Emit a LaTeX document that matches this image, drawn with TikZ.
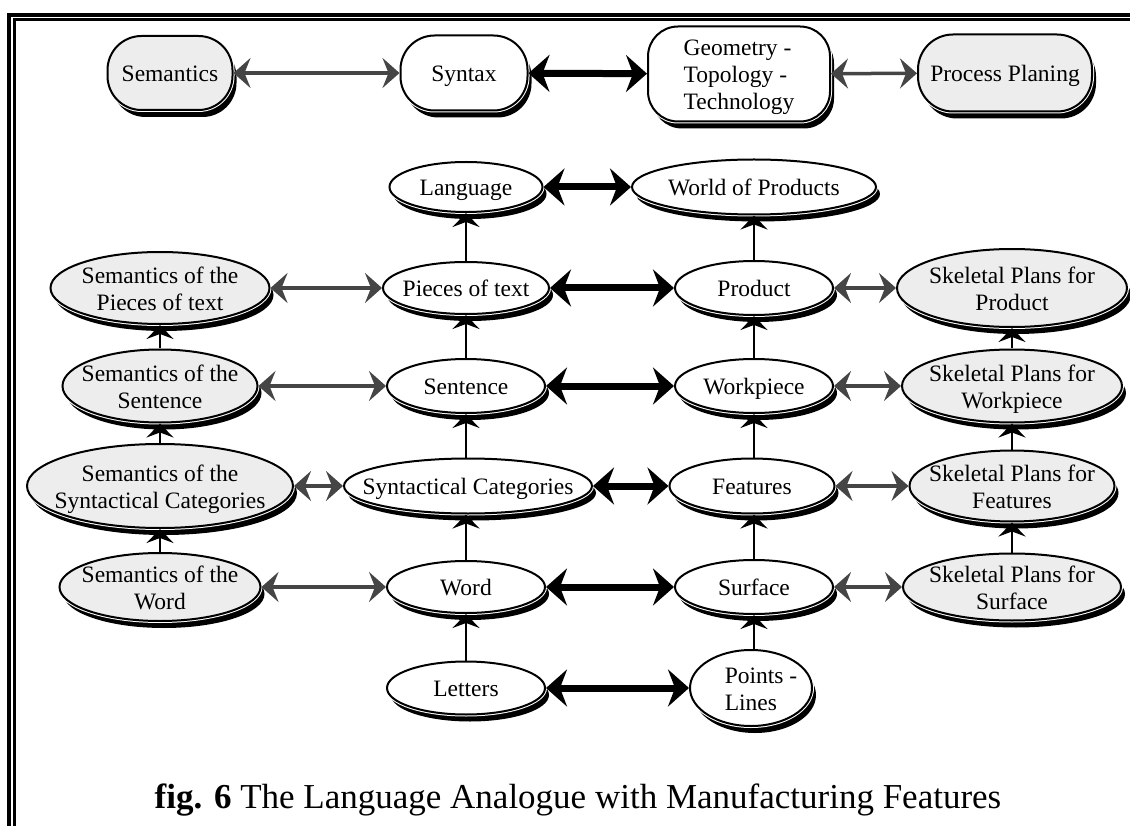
\documentclass[tikz,border=0pt]{standalone}
\usepackage{fontspec}
\setmainfont{Liberation Serif}
\usepackage{tikz}
\usetikzlibrary{arrows.meta, shapes.geometric, shadows}

\definecolor{semgray}{gray}{0.93}
\definecolor{arrgray}{gray}{0.27}
\newcommand{\lbl}[2][c]{\makebox[0pt]{\begin{tabular}{@{}#1@{}}#2\end{tabular}}}

\tikzset{
    base/.style={draw, fill=white, line width=2pt, inner sep=0pt,
        text height=19.5pt, text depth=0pt, font=\fontsize{23.5}{27}\selectfont,
        drop shadow={shadow xshift=4pt, shadow yshift=-7pt, opacity=1, fill=black},
        preaction={draw=white, line width=4pt}},
    ell/.style n args={2}{base, ellipse, minimum width=#1, minimum height=#2},
    sem/.style n args={2}{ell={#1}{#2}, fill=semgray},
    tbox/.style n args={3}{base, rectangle, rounded corners=#3, minimum width=#1, minimum height=#2},
    grayarr/.style={draw=arrgray, line width=3.5pt,
        {Stealth[length=17pt, width=30pt, inset=6pt]}-{Stealth[length=17pt, width=30pt, inset=6pt]}},
    boldarr/.style={line width=7pt,
        {Stealth[length=21pt, width=37pt, inset=7pt]}-{Stealth[length=21pt, width=37pt, inset=7pt]}},
    uparr/.style={line width=2.5pt, -{Stealth[length=14pt, width=27pt, inset=5pt]}}
}

\begin{document}
\begin{tikzpicture}[x=1pt, y=-1pt]
        \useasboundingbox (0,0) rectangle (1130,826);

        \draw[line width=3.5pt] (9.2,826) -- (9.2,15) -- (1130,15);
        \draw[line width=2.5pt] (14.5,826) -- (14.5,19.7) -- (1130,19.7);

        \node[tbox={125pt}{74pt}{34pt}, fill=semgray] (SemT) at (170,73) {\lbl{Semantics}};
        \node[tbox={127pt}{75pt}{34pt}] (SynT) at (464,73) {\lbl{Syntax}};
        \node[tbox={182pt}{95pt}{30pt}] (GeoT) at (739,74) {\lbl[l]{Geometry -\\Topology -\\Technology}};
        \node[tbox={174pt}{77pt}{35pt}, fill=semgray] (ProcT) at (1005,73) {\lbl{Process Planing}};

        \draw[grayarr] (SemT) -- (SynT);
        \draw[boldarr] (SynT) -- (GeoT);
        \draw[grayarr] (GeoT) -- (ProcT);

        \node[ell={153pt}{50pt}] (Lang) at (466,187) {\lbl{Language}};
        \node[ell={244pt}{55pt}] (World) at (754,187) {\lbl{World of Products}};

        \node[sem={219pt}{72pt}] (SPie) at (160,288) {\lbl{Semantics of the\\Pieces of text}};
        \node[ell={166pt}{52pt}] (Pie) at (466,288) {\lbl{Pieces of text}};
        \node[ell={158pt}{54pt}] (Prod) at (754,288) {\lbl{Product}};
        \node[sem={230pt}{78pt}] (KPro) at (1012,288) {\lbl{Skeletal Plans for\\Product}};

        \node[sem={195pt}{73pt}] (SSen) at (160,386) {\lbl{Semantics of the\\Sentence}};
        \node[ell={158pt}{54pt}] (Sen) at (466,386) {\lbl{Sentence}};
        \node[ell={158pt}{54pt}] (Work) at (754,386) {\lbl{Workpiece}};
        \node[sem={220pt}{73pt}] (KWork) at (1012,386) {\lbl{Skeletal Plans for\\Workpiece}};

        \node[sem={266pt}{84pt}] (SCat) at (160,486) {\lbl{Semantics of the\\Syntactical Categories}};
        \node[ell={248pt}{55pt}] (Cat) at (468,486) {\lbl{Syntactical Categories}};
        \node[ell={165pt}{55pt}] (Feat) at (752,486) {\lbl{Features}};
        \node[sem={205pt}{71pt}] (KFeat) at (1012,486) {\lbl{Skeletal Plans for\\Features}};

        \node[sem={201pt}{68pt}] (SWord) at (160,587) {\lbl{Semantics of the\\Word}};
        \node[ell={158pt}{52pt}] (Word) at (466,587) {\lbl{Word}};
        \node[ell={158pt}{54pt}] (Surf) at (754,587) {\lbl{Surface}};
        \node[sem={218pt}{67pt}] (KSurf) at (1012,587) {\lbl{Skeletal Plans for\\Surface}};

        \node[ell={158pt}{53pt}] (Let) at (466,688) {\lbl{Letters}};
        \node[ell={122pt}{76pt}] (Pts) at (751,688) {\lbl[l]{\hspace*{20pt}Points -\\\hspace*{20pt}Lines}};

        \draw[boldarr] (Lang) -- (World);
        \draw[grayarr] (SPie) -- (Pie);
        \draw[boldarr] (Pie) -- (Prod);
        \draw[grayarr] (Prod) -- (KPro);
        \draw[grayarr] (SSen) -- (Sen);
        \draw[boldarr] (Sen) -- (Work);
        \draw[grayarr] (Work) -- (KWork);
        \draw[grayarr] (SCat) -- (Cat);
        \draw[boldarr] (Cat) -- (Feat);
        \draw[grayarr] (Feat) -- (KFeat);
        \draw[grayarr] (SWord) -- (Word);
        \draw[boldarr] (Word) -- (Surf);
        \draw[grayarr] (Surf) -- (KSurf);
        \draw[boldarr] (Let) -- (Pts);

        \draw[uparr] (Pie) -- (Lang);
        \draw[uparr] (Sen) -- (Pie);
        \draw[uparr] (Cat.north -| Sen) -- (Sen);
        \draw[uparr] (Word) -- (Word |- Cat.south);
        \draw[uparr] (Let) -- (Word);
        \draw[uparr] (Prod) -- (World);
        \draw[uparr] (Work) -- (Prod);
        \draw[uparr] (Feat.north -| Work) -- (Work);
        \draw[uparr] (Surf) -- (Surf |- Feat.south);
        \draw[uparr] (Pts.north -| Surf) -- (Surf);
        \draw[uparr] (SWord) -- (SCat);
        \draw[uparr] (SCat) -- (SSen);
        \draw[uparr] (SSen) -- (SPie);
        \draw[uparr] (KSurf) -- (KFeat);
        \draw[uparr] (KFeat) -- (KWork);
        \draw[uparr] (KWork) -- (KPro);

        \node[font=\fontsize{35}{41}\selectfont] (Cap) at (578,800) {\textbf{fig. 6} The Language Analogue with Manufacturing Features};
    \end{tikzpicture}
\end{document}
